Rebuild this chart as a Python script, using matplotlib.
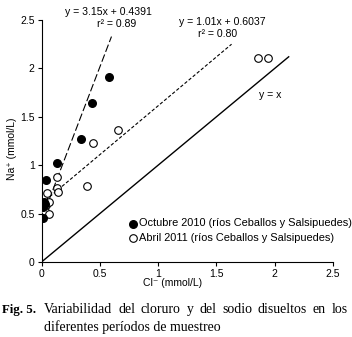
import matplotlib
matplotlib.use("Agg")
import matplotlib.pyplot as plt
import numpy as np

plt.rcParams['font.family'] = ['Liberation Sans', 'DejaVu Sans']

# Data
oct_cl = [0.015, 0.01, 0.02, 0.03, 0.036, 0.135, 0.335, 0.434, 0.575]
oct_na = [0.45, 0.57, 0.62, 0.60, 0.85, 1.02, 1.27, 1.64, 1.91]
abr_cl = [0.03, 0.06, 0.04, 0.067, 0.05, 0.13, 0.145, 0.135, 0.39, 0.44, 0.66, 1.86, 1.94]
abr_na = [0.53, 0.50, 0.59, 0.62, 0.71, 0.76, 0.72, 0.88, 0.79, 1.23, 1.36, 2.11, 2.11]

oct_fit = (3.15, 0.4391)
abr_fit = (1.01, 0.6037)
oct_fit_range = [0.0, 0.60]
abr_fit_range = [0.0, 1.63]
identity_range = [0.0, 2.12]

ticks = [0, 0.5, 1, 1.5, 2, 2.5]
tick_labels = ['0', '0.5', '1', '1.5', '2', '2.5']

W, H = 352, 337
fig = plt.figure(figsize=(W / 100, H / 100), dpi=100)
ax = fig.add_axes([0.118, 0.2226, 0.828, 0.718])

xo = np.array(oct_fit_range)
ax.plot(xo, oct_fit[0] * xo + oct_fit[1], color='black', lw=0.8,
        linestyle=(0, (7, 2.5)))
xa = np.array(abr_fit_range)
ax.plot(xa, abr_fit[0] * xa + abr_fit[1], color='black', lw=0.8,
        linestyle=(0, (3, 1.8)))
xi = np.array(identity_range)
ax.plot(xi, xi, color='black', lw=1.0)

ax.scatter(abr_cl, abr_na, s=30, facecolors='white', edgecolors='black',
           linewidths=0.8, zorder=3, label='Abril 2011 (ríos Ceballos y Salsipuedes)')
ax.scatter(oct_cl, oct_na, s=30, color='black', zorder=4,
           label='Octubre 2010 (ríos Ceballos y Salsipuedes)')

ax.set_xlim(0, 2.5)
ax.set_ylim(0, 2.5)
ax.set_xticks(ticks)
ax.set_xticklabels(tick_labels)
ax.set_yticks(ticks)
ax.set_yticklabels(tick_labels)
ax.tick_params(direction='out', length=3, width=0.8, labelsize=7.5, pad=2)
for s in ['top', 'right']:
    ax.spines[s].set_visible(False)
for s in ['left', 'bottom']:
    ax.spines[s].set_linewidth(0.8)

ax.set_xlabel('Cl\u207b (mmol/L)', fontsize=7.5)
ax.xaxis.set_label_coords(0.45, -0.065)
ax.set_ylabel('Na\u207a (mmol/L)', fontsize=7.5)
ax.yaxis.set_label_coords(-0.085, 0.47)

fs = 7.6
ax.text(0.57, 2.58, 'y = 3.15x + 0.4391', fontsize=fs, ha='center', va='center')
ax.text(0.64, 2.46, 'r\u00b2 = 0.89', fontsize=fs, ha='center', va='center')
ax.text(1.55, 2.48, 'y = 1.01x + 0.6037', fontsize=fs, ha='center', va='center')
ax.text(1.51, 2.36, 'r\u00b2 = 0.80', fontsize=fs, ha='center', va='center')
ax.text(1.96, 1.73, 'y = x', fontsize=fs, ha='center', va='center')

handles, labels = ax.get_legend_handles_labels()
leg = ax.legend(handles[::-1], labels[::-1], loc='upper left',
                bbox_to_anchor=(0.29, 0.18), frameon=False, fontsize=7.9,
                handletextpad=0.0, handlelength=1.2, labelspacing=0.45,
                borderaxespad=0, borderpad=0)

# Caption (justified first line)
cap_fs = 10
serif = 'Liberation Serif'
fig.text(2 / W, (H - 313) / H, 'Fig. 5.', fontsize=9.3, fontweight='bold',
         family=serif, va='baseline')
line1 = 'Variabilidad del cloruro y del sodio disueltos en los'.split()
x_start, x_end = 44, 348
renderer = fig.canvas.get_renderer()
widths = []
for w in line1:
    t = fig.text(0, 0, w, fontsize=cap_fs, family=serif)
    widths.append(t.get_window_extent(renderer).width)
    t.remove()
gap = (x_end - x_start - sum(widths)) / (len(line1) - 1)
x = x_start
for w, wd in zip(line1, widths):
    fig.text(x / W, (H - 313) / H, w, fontsize=cap_fs, family=serif, va='baseline')
    x += wd + gap
fig.text(x_start / W, (H - 331) / H, 'diferentes períodos de muestreo',
         fontsize=cap_fs, family=serif, va='baseline')

fig.savefig('out.png', dpi=100)
